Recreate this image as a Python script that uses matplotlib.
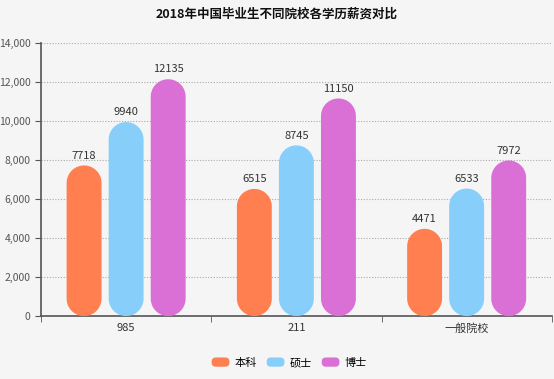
import matplotlib
matplotlib.use("Agg")
import numpy as np
from matplotlib import pyplot as plt
from matplotlib.patches import FancyBboxPatch, Patch, Polygon
from matplotlib.legend_handler import HandlerPatch
from matplotlib.ticker import FuncFormatter

plt.rcParams['font.family'] = ['Noto Sans CJK SC', 'DejaVu Sans']

categories = ['985', '211', '一般院校']
series_names = ['本科', '硕士', '博士']
benke = [7718, 6515, 4471]
shuoshi = [9940, 8745, 6533]
boshi = [12135, 11150, 7972]
colors = ['#FF7F50', '#87CEFA', '#DA70D6']

bg = '#f5f5f5'
fig = plt.figure(figsize=(5.54, 3.79), dpi=100, facecolor=bg)
ax = fig.add_axes([0.074, 0.166, 0.922, 0.721], facecolor=bg)

x = np.arange(len(categories))
width = 0.205
gap = 0.247
ax.set_xlim(-0.5, len(categories) - 0.5)
ax.set_ylim(0, 14000)

# data units per pixel, to keep the round ends circular
bbox = ax.get_window_extent()
xpp = 3 / bbox.width
ypp = 14000 / bbox.height


def pill(x0, w, h):
    rx = w / 2
    ry = rx / xpp * ypp
    ry = min(ry, h / 2)
    cx = x0 + rx
    t = np.linspace(0, np.pi, 40)
    top = np.column_stack([cx + rx * np.cos(t), h - ry + ry * np.sin(t)])
    bot = np.column_stack([cx - rx * np.cos(t), ry - ry * np.sin(t)])
    return np.vstack([top, bot])


for i, (name, vals, c) in enumerate(zip(series_names, [benke, shuoshi, boshi], colors)):
    bars = ax.bar(x + (i - 1) * gap, vals, width, color=c)
    for rect, v in zip(bars, vals):
        rect.set_visible(False)
        ax.add_patch(Polygon(pill(rect.get_x(), width, v), closed=True,
                             fc=c, ec='none', zorder=3))
        ax.text(rect.get_x() + width / 2, v + 250, str(v), ha='center', va='bottom',
                fontsize=8, color='#333333')

ax.set_yticks(np.arange(0, 14001, 2000))
ax.yaxis.set_major_formatter(FuncFormatter(lambda v, p: f"{int(v):,}"))
ax.grid(axis='y', linestyle=(0, (1, 1.5)), color='#aaaaaa', linewidth=0.8)
ax.set_axisbelow(True)

ax.set_xticks(x)
ax.set_xticklabels(categories)
ax.set_xticks(np.arange(-0.5, len(categories)), minor=True)
ax.tick_params(axis='x', which='major', length=0, labelsize=8, colors='#333333', pad=5)
ax.tick_params(axis='x', which='minor', length=4, color='#555555')
ax.tick_params(axis='y', length=4, labelsize=7.5, colors='#555555')

for s in ['top', 'right']:
    ax.spines[s].set_visible(False)
for s in ['left', 'bottom']:
    ax.spines[s].set_color('#555555')
    ax.spines[s].set_linewidth(1.2)

fig.suptitle('2018年中国毕业生不同院校各学历薪资对比', y=0.98, fontsize=9,
             fontweight='bold', color='#111111')


class HandlerPill(HandlerPatch):
    def create_artists(self, legend, orig_handle, xdescent, ydescent, width, height, fontsize, trans):
        p = FancyBboxPatch((-xdescent, -ydescent), width, height,
                           boxstyle="round,pad=0,rounding_size=3",
                           fc=orig_handle.get_facecolor(), ec='none', transform=trans)
        return [p]


handles = [Patch(color=c, label=n) for c, n in zip(colors, series_names)]
fig.legend(handles=handles, loc='center', bbox_to_anchor=(0.522, 0.043), ncol=3,
           frameon=False, fontsize=8, handlelength=1.6, handleheight=0.9,
           handletextpad=0.45, columnspacing=0.9,
           handler_map={Patch: HandlerPill()})

fig.savefig('out.png', dpi=100, facecolor=bg)
